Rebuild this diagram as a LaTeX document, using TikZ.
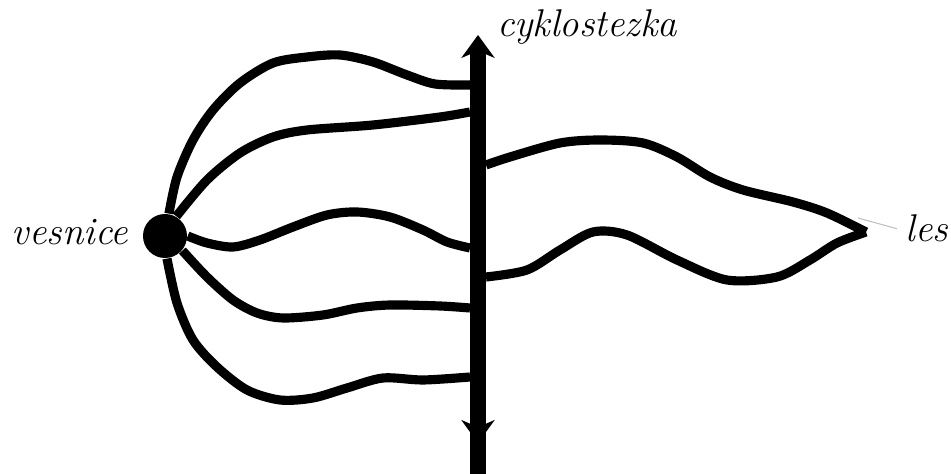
\documentclass[tikz,border=0pt]{standalone}
\usepackage{tikz}
\usetikzlibrary{arrows.meta}
\newcommand{\Vlna}[1]{\draw[vlna] plot[smooth] coordinates {#1};}
\tikzset{
	vlna/.style={line width=2.6pt, line cap=butt, line join=round},
	cesta/.style={line width=4.5pt},
	popis/.style={font=\itshape\fontsize{11}{13}\selectfont, inner sep=0pt, anchor=base},
	tenka/.style={gray!50, line width=0.3pt},
	hrot/.tip={Stealth[length=6.5pt,width=9.4pt,inset=2pt]}
}

\begin{document}
\begin{tikzpicture}[x=0.01cm,y=-0.01cm]
		\useasboundingbox (0,0) rectangle (951,474);
		\node[circle, fill, inner sep=0pt, minimum size=0.44cm] (ves) at (165,236) {};
		\coordinate (nahore) at (478,35);
		\coordinate (dole) at (478,443);
		\coordinate (okraj) at (478,474);
		\foreach \y [count=\i] in {85,112,248,308,377}{
			\coordinate (k\i) at (470,\y);
		}
		\coordinate (z1) at (486,165);
		\coordinate (z2) at (486,277);
		\coordinate (les) at (866,232);
		\draw[cesta] (ves -| nahore) ++(0,100) -- (okraj);
		\draw[cesta, hrot-hrot] (dole) -- (nahore);
		\Vlna{(ves.80) (177,177) (193,140) (213,110) (240,83) (273,63) (307,57) (340,55) (373,62) (407,75) (435,84) (k1)}
		\Vlna{(ves.60) (207,180) (240,153) (273,137) (307,130) (373,125) (440,117) (k2)}
		\Vlna{(ves.east) (207,243) (233,247) (260,240) (293,227) (327,215) (357,212) (390,217) (423,230) (447,242) (k3)}
		\Vlna{(ves.-40) (207,277) (233,300) (257,313) (283,318) (323,315) (357,308) (390,305) (440,306) (k4)}
		\Vlna{(ves.-85) (177,303) (193,340) (217,367) (247,390) (280,400) (313,398) (347,388) (383,378) (423,380) (k5)}
		\Vlna{(z1) (510,157) (560,143) (600,140) (643,143) (677,157) (710,177) (743,190) (793,202) (827,213) (les)}
		\Vlna{(z2) (527,270) (560,250) (593,232) (627,235) (677,260) (727,280) (777,277) (810,260) (837,243) (les)}
		% Popisky
		\node[popis] (tves) at (70,245) {vesnice};
		\node[popis] (tcyk) at (587,37) {cyklostezka};
		\node[popis] (tles) at (927,242) {les};
		\coordinate (spic) at (858,218);
		\draw[tenka] (spic) -- ([xshift=-0.08cm]tles.west);
\end{tikzpicture}
\end{document}
